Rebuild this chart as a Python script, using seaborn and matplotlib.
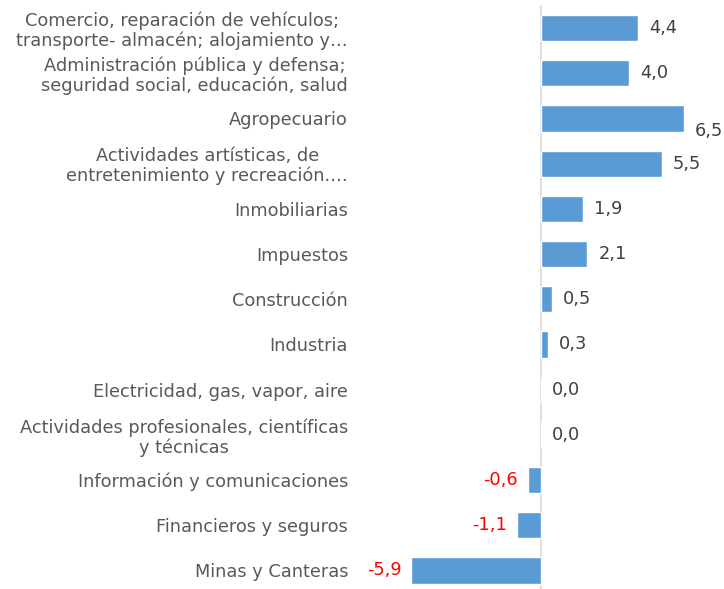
import matplotlib
matplotlib.use("Agg")
import matplotlib.pyplot as plt
import seaborn as sns
import pandas as pd

sectores = [
    "Comercio, reparación de vehículos;\ntransporte- almacén; alojamiento y…",
    "Administración pública y defensa;\nseguridad social, educación, salud",
    "Agropecuario",
    "Actividades artísticas, de\nentretenimiento y recreación.…",
    "Inmobiliarias",
    "Impuestos",
    "Construcción",
    "Industria",
    "Electricidad, gas, vapor, aire",
    "Actividades profesionales, científicas\ny técnicas",
    "Información y comunicaciones",
    "Financieros y seguros",
    "Minas y Canteras",
]
variacion = [4.4, 4.0, 6.5, 5.5, 1.9, 2.1, 0.5, 0.3, 0.0, 0.0, -0.6, -1.1, -5.9]

df = pd.DataFrame({"sector": sectores, "valor": variacion})

sns.set_style("white")
plt.rcParams["font.family"] = ["DejaVu Sans"]

fig = plt.figure(figsize=(7.24, 5.89), dpi=100)
ax = fig.add_axes([405 / 724, 0, 295 / 724, 1 - 5 / 589])

sns.barplot(data=df, y="sector", x="valor", orient="h", color="#5B9BD5",
            width=0.58, saturation=1, ax=ax)

ax.set_xlim((405 - 541) / 22, (700 - 541) / 22)
ax.set_ylim(12.41, -0.51)
ax.axvline(0, color="#D9D9D9", lw=1.2, zorder=0)

for s in ax.spines.values():
    s.set_visible(False)
ax.set_xticks([])
ax.set_xlabel("")
ax.set_ylabel("")
ax.tick_params(axis="y", length=0, pad=41, labelsize=12.8, labelcolor="#595959")
for lbl in ax.get_yticklabels():
    lbl.set_multialignment("center")
    lbl.set_linespacing(1.1)

for i, v in enumerate(variacion):
    txt = f"{v:.1f}".replace(".", ",")
    if v < 0:
        ax.annotate(txt, (v, i), xytext=(-7, 0), textcoords="offset points",
                    ha="right", va="center", fontsize=12.8, color="#FF0000")
    else:
        dy = -9 if v == max(variacion) else 0
        ax.annotate(txt, (v, i), xytext=(8, dy), textcoords="offset points",
                    ha="left", va="center", fontsize=12.8, color="#404040")

fig.savefig("out.png", dpi=100)
